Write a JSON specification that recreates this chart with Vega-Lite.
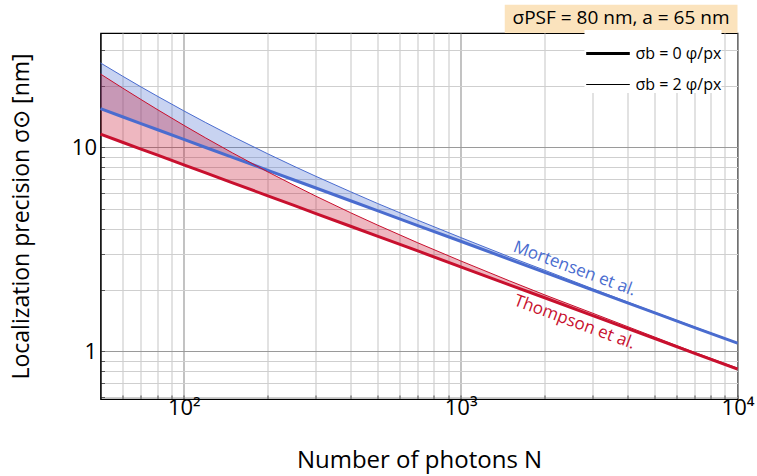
{
  "$schema": "https://vega.github.io/schema/vega-lite/v6.json",
  "autosize": {"type": "none"},
  "padding": {"left": 100.5, "top": 33, "right": 19, "bottom": 76},
  "width": 637,
  "height": 366,
  "config": {
    "font": "Open Sans",
    "view": {"stroke": "black", "strokeWidth": 1.2}
  },
  "datasets": {
    "curves": [
      {"N": 50, "model": "Mortensen", "s0": 15.49, "s2": 25.96},
      {"N": 50, "model": "Thompson", "s0": 11.62, "s2": 22.91},
      {"N": 60, "model": "Mortensen", "s0": 14.14, "s2": 22.39},
      {"N": 60, "model": "Thompson", "s0": 10.61, "s2": 19.58},
      {"N": 70, "model": "Mortensen", "s0": 13.10, "s2": 19.82},
      {"N": 70, "model": "Thompson", "s0": 9.82, "s2": 17.19},
      {"N": 80, "model": "Mortensen", "s0": 12.25, "s2": 17.88},
      {"N": 80, "model": "Thompson", "s0": 9.19, "s2": 15.38},
      {"N": 100, "model": "Mortensen", "s0": 10.96, "s2": 15.12},
      {"N": 100, "model": "Thompson", "s0": 8.22, "s2": 12.84},
      {"N": 120, "model": "Mortensen", "s0": 10.00, "s2": 13.24},
      {"N": 120, "model": "Thompson", "s0": 7.50, "s2": 11.13},
      {"N": 150, "model": "Mortensen", "s0": 8.95, "s2": 11.32},
      {"N": 150, "model": "Thompson", "s0": 6.71, "s2": 9.40},
      {"N": 200, "model": "Mortensen", "s0": 7.75, "s2": 9.34},
      {"N": 200, "model": "Thompson", "s0": 5.81, "s2": 7.62},
      {"N": 250, "model": "Mortensen", "s0": 6.93, "s2": 8.09},
      {"N": 250, "model": "Thompson", "s0": 5.20, "s2": 6.53},
      {"N": 300, "model": "Mortensen", "s0": 6.33, "s2": 7.22},
      {"N": 300, "model": "Thompson", "s0": 4.74, "s2": 5.77},
      {"N": 400, "model": "Mortensen", "s0": 5.48, "s2": 6.07},
      {"N": 400, "model": "Thompson", "s0": 4.11, "s2": 4.79},
      {"N": 500, "model": "Mortensen", "s0": 4.90, "s2": 5.32},
      {"N": 500, "model": "Thompson", "s0": 3.68, "s2": 4.17},
      {"N": 700, "model": "Mortensen", "s0": 4.14, "s2": 4.40},
      {"N": 700, "model": "Thompson", "s0": 3.11, "s2": 3.41},
      {"N": 1000, "model": "Mortensen", "s0": 3.47, "s2": 3.62},
      {"N": 1000, "model": "Thompson", "s0": 2.60, "s2": 2.78},
      {"N": 1500, "model": "Mortensen", "s0": 2.83, "s2": 2.91},
      {"N": 1500, "model": "Thompson", "s0": 2.12, "s2": 2.22},
      {"N": 2000, "model": "Mortensen", "s0": 2.45, "s2": 2.51},
      {"N": 2000, "model": "Thompson", "s0": 1.84, "s2": 1.90},
      {"N": 3000, "model": "Mortensen", "s0": 2.00, "s2": 2.03},
      {"N": 3000, "model": "Thompson", "s0": 1.50, "s2": 1.54},
      {"N": 5000, "model": "Mortensen", "s0": 1.55, "s2": 1.56},
      {"N": 5000, "model": "Thompson", "s0": 1.16, "s2": 1.18},
      {"N": 7000, "model": "Mortensen", "s0": 1.31, "s2": 1.32},
      {"N": 7000, "model": "Thompson", "s0": 0.98, "s2": 0.99},
      {"N": 10000, "model": "Mortensen", "s0": 1.10, "s2": 1.10},
      {"N": 10000, "model": "Thompson", "s0": 0.82, "s2": 0.83}
    ],
    "labels": [
      {"N": 2580, "y": 2.54, "model": "Mortensen", "label": "Mortensen et al."},
      {"N": 2580, "y": 1.39, "model": "Thompson", "label": "Thompson et al."}
    ],
    "box": [
      {"x1": 1443, "x2": 10000, "y1": 36.4, "y2": 50.0, "xm": 3796, "ym": 42.9, "text": "σPSF = 80 nm, a = 65 nm"}
    ]
  },
  "encoding": {
    "x": {
      "field": "N", "type": "quantitative",
      "scale": {"type": "log", "domain": [50, 10000], "nice": false},
      "axis": {
        "title": "Number of photons N",
        "titleFont": "Open Sans", "titleFontSize": 24, "titleFontWeight": "normal", "titleColor": "black", "titlePadding": 30,
        "values": [60, 70, 80, 90, 100, 200, 300, 400, 500, 600, 700, 800, 900, 1000, 2000, 3000, 4000, 5000, 6000, 7000, 8000, 9000, 10000],
        "labelExpr": "datum.value == 100 ? '10²' : datum.value == 1000 ? '10³' : datum.value == 10000 ? '10⁴' : ''",
        "labelFont": "Open Sans", "labelFontSize": 22, "labelColor": "black", "labelPadding": 2, "labelOverlap": false, "labelFlush": false,
        "grid": true,
        "gridColor": {"condition": {"test": "datum.value == 100 || datum.value == 1000 || datum.value == 10000", "value": "#9a9a9a"}, "value": "#cfcfcf"},
        "gridWidth": 1.2,
        "domainColor": "black",
        "ticks": true, "tickSize": -4, "tickColor": "#555"
      }
    },
    "y": {
      "type": "quantitative",
      "scale": {"type": "log", "domain": [0.585, 36.4], "nice": false},
      "axis": {
        "title": "Localization precision σ⊙ [nm]",
        "titleFont": "Open Sans", "titleFontSize": 23, "titleFontWeight": "normal", "titleColor": "black", "titlePadding": 38,
        "values": [0.6, 0.7, 0.8, 0.9, 1, 2, 3, 4, 5, 6, 7, 8, 9, 10, 20, 30],
        "labelExpr": "datum.value == 1 ? '1' : datum.value == 10 ? '10' : ''",
        "labelFont": "Open Sans", "labelFontSize": 22, "labelColor": "black", "labelPadding": 8, "labelOverlap": false,
        "grid": true,
        "gridColor": {"condition": {"test": "datum.value == 1 || datum.value == 10", "value": "#9a9a9a"}, "value": "#cfcfcf"},
        "gridWidth": 1.2,
        "domainColor": "black",
        "ticks": true, "tickSize": -4, "tickColor": "#555"
      }
    }
  },
  "layer": [
    {
      "data": {"name": "curves"},
      "mark": {"type": "area", "opacity": 0.3},
      "encoding": {
        "y": {"field": "s0"},
        "y2": {"field": "s2"},
        "color": {"field": "model", "type": "nominal", "scale": {"domain": ["Mortensen", "Thompson"], "range": ["#4a6ccf", "#c8102e"]}, "legend": null}
      }
    },
    {
      "data": {"name": "curves"},
      "transform": [{"fold": ["s0", "s2"], "as": ["bg", "sigma"]}],
      "mark": {"type": "line"},
      "encoding": {
        "y": {"field": "sigma"},
        "color": {"field": "model", "type": "nominal", "legend": null},
        "strokeWidth": {
          "field": "bg", "type": "nominal",
          "scale": {"domain": ["s0", "s2"], "range": [3, 1]},
          "legend": {
            "title": null, "orient": "none", "legendX": 484, "legendY": -3,
            "labelExpr": "datum.value == 's0' ? 'σb = 0 φ/px' : 'σb = 2 φ/px'",
            "labelFont": "Open Sans", "labelFontSize": 16, "labelColor": "black",
            "symbolType": "stroke", "symbolStrokeColor": "black", "symbolSize": 1900,
            "fillColor": "white", "padding": 0, "rowPadding": -20,
            "direction": "vertical"
          }
        }
      }
    },
    {
      "data": {"name": "labels"},
      "mark": {"type": "text", "angle": 20.2, "fontSize": 17, "font": "Open Sans"},
      "encoding": {
        "y": {"field": "y"},
        "text": {"field": "label"},
        "color": {"field": "model", "type": "nominal", "legend": null}
      }
    },
    {
      "data": {"name": "box"},
      "mark": {"type": "rect", "color": "#fbe3bd", "clip": false},
      "encoding": {
        "x": {"field": "x1"},
        "x2": {"field": "x2"},
        "y": {"field": "y1"},
        "y2": {"field": "y2"}
      }
    },
    {
      "data": {"name": "box"},
      "mark": {"type": "text", "fontSize": 19, "font": "Open Sans", "color": "black"},
      "encoding": {
        "x": {"field": "xm"},
        "y": {"field": "ym"},
        "text": {"field": "text"}
      }
    }
  ]
}
